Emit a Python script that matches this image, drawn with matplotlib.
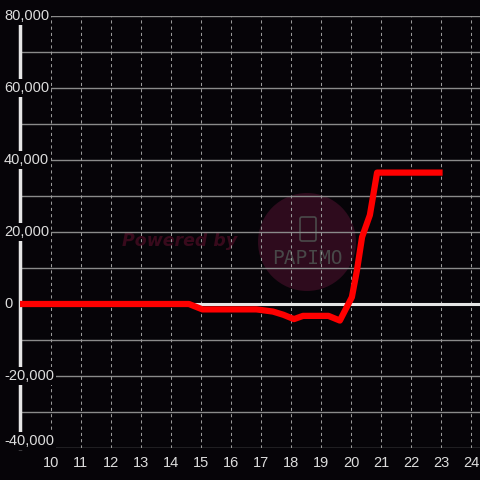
import matplotlib
matplotlib.use("Agg")
import matplotlib.pyplot as plt
from matplotlib.patches import Circle, FancyBboxPatch
import matplotlib.transforms as mtransforms

x_vals = [9.0, 14.6, 15.05, 16.85, 17.4, 17.75, 18.1, 18.4, 19.25, 19.63,
          20.03, 20.2, 20.37, 20.63, 20.87, 22.95]
y_vals = [0, 0, -1500, -1500, -2100, -3000, -4200, -3300, -3300, -4600,
          1900, 9400, 18600, 24700, 36500, 36500]

y_labels = [80000, 60000, 40000, 20000, 0, -20000, -40000]
y_grid = list(range(-40000, 80001, 10000))
x_ticks = list(range(10, 25))

bg = "#060408"
txt = "#dddddd"

fig = plt.figure(figsize=(4.8, 4.8), dpi=100, facecolor=bg)
ax = fig.add_axes([20 / 480, 32 / 480, 460 / 480, 432 / 480])
ax.set_facecolor(bg)
ax.set_xlim(8.97, 24.3)
ax.set_ylim(-40000, 80000)

# watermark (behind the grid)
fig.patches.append(Circle((307 / 480, 1 - 242 / 480), 49 / 480, transform=fig.transFigure,
                          facecolor="#2e0b1d", edgecolor="none", zorder=-1))
fig.patches.append(FancyBboxPatch((300 / 480, 1 - 241 / 480), 16 / 480, 24 / 480,
                                  boxstyle="round,pad=0,rounding_size=0.004",
                                  transform=fig.transFigure, facecolor="none",
                                  edgecolor="#4a4a4a", lw=1.2, zorder=-1))
fig.text(180 / 480, 1 - 241 / 480, "Powered by", color="#380a1c", fontsize=12.5,
         fontweight="bold", fontstyle="italic", ha="center", va="center",
         family="DejaVu Sans", zorder=-1)
fig.text(307 / 480, 1 - 258 / 480, "PAPIMO", color="#484848", fontsize=14,
         ha="center", va="center", family="DejaVu Sans Mono", zorder=-1)
ax.patch.set_alpha(0)

# grid
for gy in y_grid:
    ax.axhline(gy, color="#8a8a8a", lw=1.0, zorder=1)
for gx in x_ticks:
    ax.axvline(gx, color="#9a9a9a", lw=0.75, dashes=(3, 3), zorder=1)
ax.axhline(0, color="#e6e6e6", lw=2.2, zorder=2)

ax.plot(x_vals, y_vals, color="#ff0000", lw=4.5, solid_joinstyle="round", zorder=5)

# spines / ticks
for s in ["top", "right", "bottom"]:
    ax.spines[s].set_visible(False)
ax.spines["left"].set_color("#e6e6e6")
ax.spines["left"].set_linewidth(2.5)
ax.spines["left"].set_zorder(3)
ax.set_yticks([])
ax.set_xticks(x_ticks)
ax.set_xticklabels([str(t) for t in x_ticks])
ax.tick_params(axis="x", length=0, pad=6, colors=txt, labelsize=10.5)
for lab in ax.get_xticklabels():
    lab.set_family("Liberation Sans")

trans = mtransforms.blended_transform_factory(ax.transAxes, ax.transData)
for v in y_labels:
    va = "bottom" if v == y_labels[-1] else "center"
    ax.text(-16 / 460, v, f"{v:,}", transform=trans, ha="left", va=va,
            color=txt, fontsize=10.5, family="Liberation Sans", zorder=6,
            bbox=dict(facecolor=bg, edgecolor="none", pad=1.5), clip_on=False)

fig.savefig("out.png", dpi=100, facecolor=bg)
